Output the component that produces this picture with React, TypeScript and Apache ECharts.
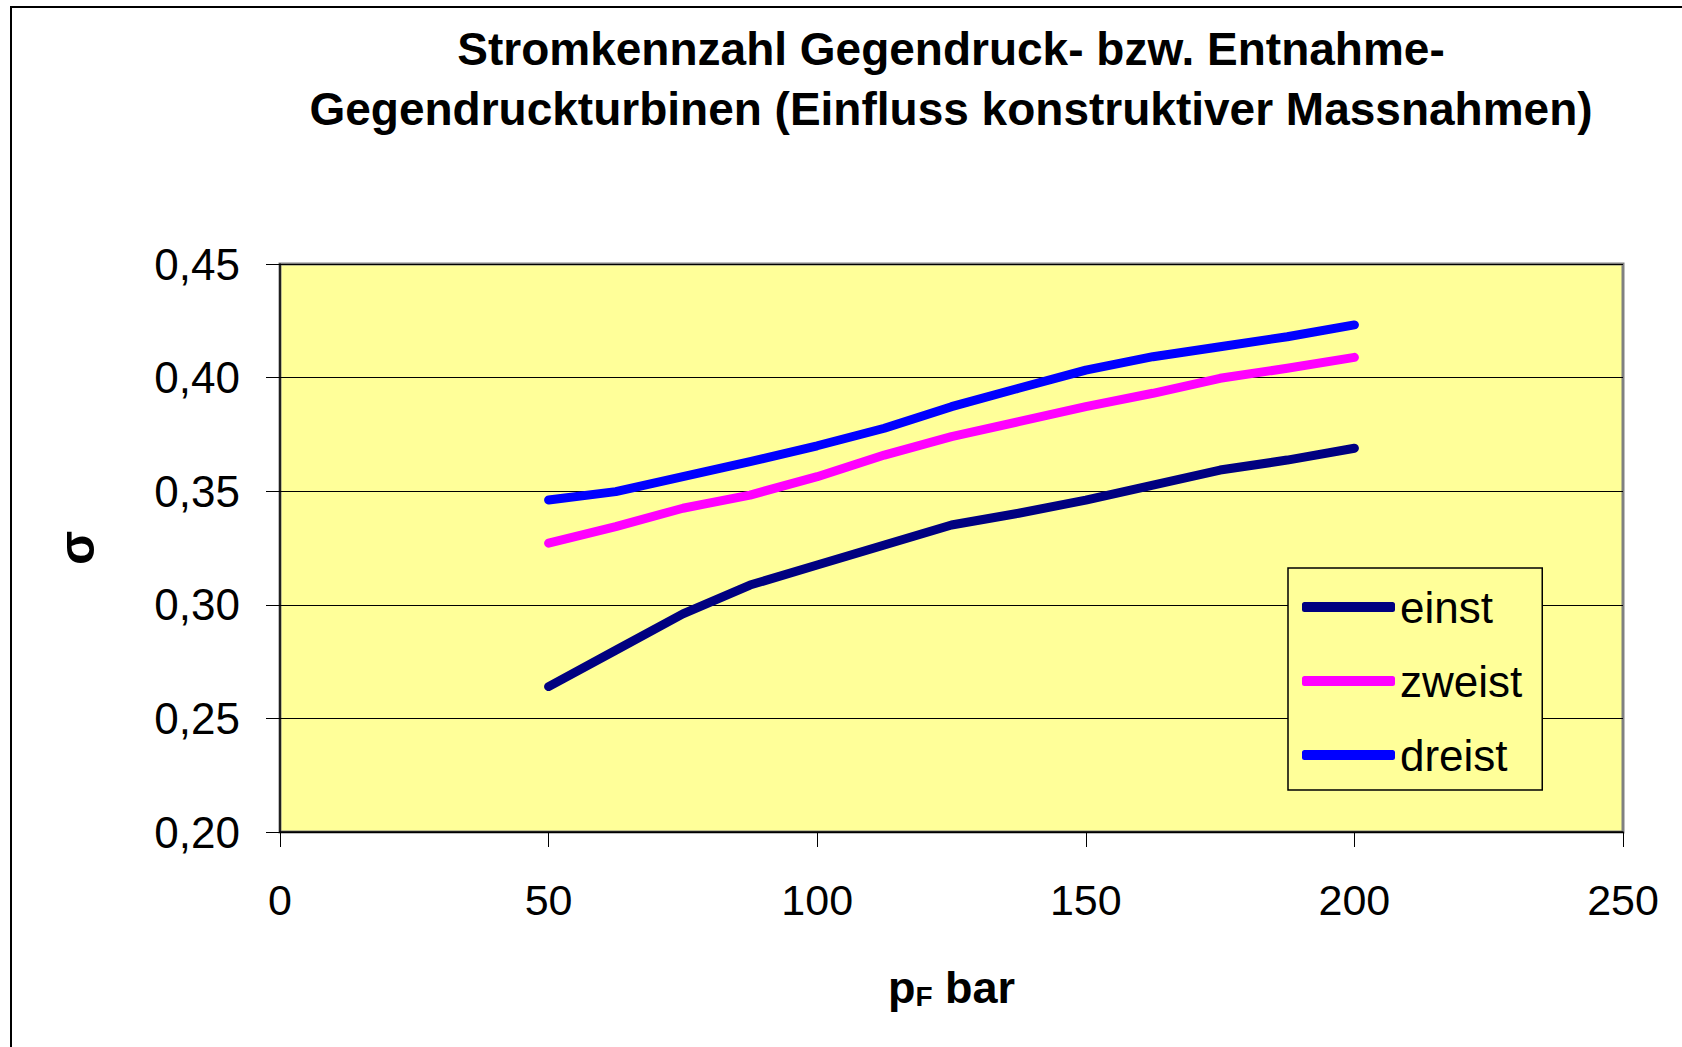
import React, { useEffect, useRef } from "react";
import * as echarts from "echarts";

const pressure = [50, 62.5, 75, 87.5, 100, 112.5, 125, 137.5, 150, 162.5, 175, 187.5, 200];
const einst = [0.264, 0.28, 0.296, 0.3087, 0.3175, 0.3263, 0.3351, 0.3403, 0.3461, 0.3527, 0.3593, 0.3637, 0.3689];
const zweist = [0.3271, 0.3344, 0.3425, 0.3483, 0.3564, 0.3659, 0.374, 0.3806, 0.3872, 0.3931, 0.3997, 0.4041, 0.4089];
const dreist = [0.3461, 0.3498, 0.3564, 0.363, 0.37, 0.3777, 0.3872, 0.3953, 0.4033, 0.4092, 0.4136, 0.418, 0.4232];
const seriesNames = ["einst", "zweist", "dreist"];
const seriesColors = ["#000080", "#FF00FF", "#0000FF"];
const titleLines = [
  "Stromkennzahl Gegendruck- bzw. Entnahme-",
  "Gegendruckturbinen (Einfluss konstruktiver Massnahmen)",
];

const FONT = "'Liberation Sans', Arial, sans-serif";

export default function App() {
  const ref = useRef<HTMLDivElement>(null);
  useEffect(() => {
    if (!ref.current) return;
    const chart = echarts.init(ref.current, null, { renderer: "svg" });
    const allValues = [einst, zweist, dreist];
    chart.setOption({
      animation: false,
      backgroundColor: "#FFFFFF",
      title: {
        text: titleLines.join("\n"),
        left: 946,
        top: 14,
        textAlign: "center",
        textStyle: {
          fontFamily: FONT,
          fontWeight: "bold",
          fontSize: 46,
          lineHeight: 60,
          color: "#000",
        },
      },
      graphic: [
        {
          type: "rect",
          shape: { x: 11, y: 7, width: 1700, height: 1100 },
          style: { fill: "none", stroke: "#000", lineWidth: 2 },
          silent: true,
          z: -1,
        },
      ],
      legend: {
        orient: "vertical",
        left: 1288,
        top: 568,
        backgroundColor: "#FFFF99",
        borderColor: "#000",
        borderWidth: 1.5,
        padding: [17, 20, 13, 14],
        itemGap: 30,
        itemWidth: 93,
        itemHeight: 10,
        icon: "roundRect",
        data: seriesNames,
        textStyle: {
          fontFamily: FONT,
          fontSize: 44,
          lineHeight: 44,
          color: "#000",
        },
      },
      grid: {
        left: 280,
        top: 264,
        width: 1343,
        height: 568,
        show: true,
        backgroundColor: "#FFFF99",
        borderColor: "#808080",
        borderWidth: 3,
      },
      xAxis: {
        type: "value",
        min: 0,
        max: 250,
        interval: 50,
        name: "{p|p}{sub|F}{p| bar}",
        nameLocation: "middle",
        nameGap: 132,
        nameTextStyle: {
          rich: {
            p: { fontFamily: FONT, fontWeight: "bold", fontSize: 45, color: "#000" },
            sub: {
              fontFamily: FONT,
              fontWeight: "bold",
              fontSize: 28,
              color: "#000",
              padding: [18, 0, 0, 0],
            },
          },
        },
        axisLine: { show: true, lineStyle: { color: "#000", width: 1.5 } },
        axisTick: { show: true, length: 15, inside: false, lineStyle: { color: "#000", width: 1 } },
        axisLabel: {
          margin: 46,
          fontFamily: FONT,
          fontSize: 43,
          color: "#000",
        },
        splitLine: { show: false },
      },
      yAxis: {
        type: "value",
        min: 0.2,
        max: 0.45,
        interval: 0.05,
        name: "σ",
        nameLocation: "middle",
        nameRotate: 90,
        nameGap: 178,
        nameTextStyle: {
          fontFamily: FONT,
          fontWeight: "bold",
          fontSize: 50,
          color: "#000",
        },
        axisLine: { show: true, lineStyle: { color: "#000", width: 1.5 } },
        axisTick: { show: true, length: 14, inside: false, lineStyle: { color: "#000", width: 1 } },
        axisLabel: {
          margin: 40,
          fontFamily: FONT,
          fontSize: 44,
          color: "#000",
          formatter: (v: number) => v.toFixed(2).replace(".", ","),
        },
        splitLine: { show: true, lineStyle: { color: "#000", width: 1 } },
      },
      series: seriesNames.map((name, i) => ({
        name,
        type: "line",
        data: pressure.map((p, j) => [p, allValues[i][j]]),
        symbol: "none",
        smooth: false,
        color: seriesColors[i],
        lineStyle: { color: seriesColors[i], width: 9, cap: "round", join: "round" },
      })),
    });
    return () => chart.dispose();
  }, []);
  return (
    <div
      ref={ref}
      style={{ position: "fixed", left: 0, top: 0, width: 1682, height: 1047 }}
    />
  );
}
